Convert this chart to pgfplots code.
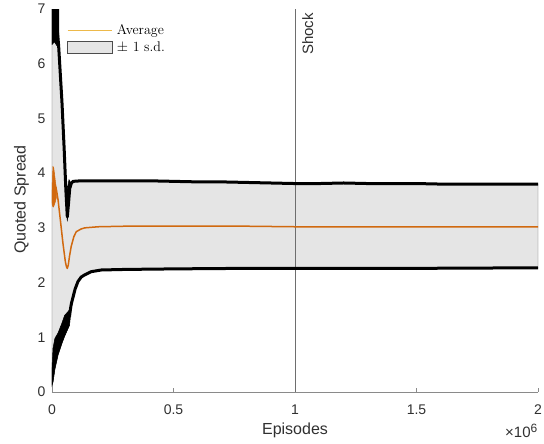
\documentclass[border=0pt]{standalone}
\usepackage{fontspec}
\setsansfont{Liberation Sans}
\usepackage{pgfplots}
\pgfplotsset{compat=1.18}

\definecolor{avgorange}{HTML}{D1690F}
\definecolor{legorange}{HTML}{EDB94A}
\definecolor{bandgray}{HTML}{E5E5E5}
\definecolor{axgray}{HTML}{8A8A8A}
\definecolor{txtgray}{HTML}{303030}

\begin{document}
\begin{tikzpicture}
\path[use as bounding box] (-52pt,-52pt) rectangle (492pt,392pt);
\begin{axis}[
  scale only axis,
  width=486pt, height=383pt,
  xmin=0, xmax=2, ymin=0, ymax=7,
  clip mode=individual,
  axis x line=bottom, axis y line=left,
  axis line style={-, axgray, line width=0.6pt},
  xtick={0,0.5,1,1.5,2},
  xticklabels={0,0.5,1,1.5,2},
  ytick={0,1,2,3,4,5,6,7},
  tick align=inside,
  major tick length=4pt,
  tick style={axgray, line width=0.6pt},
  /pgf/number format/assume math mode=true,
  tick label style={font=\sffamily\fontsize{14}{16}\selectfont, text=txtgray},
  xticklabel style={yshift=-9pt},
  yticklabel style={xshift=-3pt},
  legend style={at={(axis description cs:0,1)}, anchor=north west,
    xshift=15pt, yshift=-13pt, draw=none, fill=none, inner sep=0pt,
    font=\fontsize{14}{16}\selectfont, row sep=2pt, column sep=2pt,
    nodes={inner sep=2pt}},
  legend cell align=left,
]

% band of one standard deviation around the average
\addplot[fill=bandgray, draw=black!60, line width=0.5pt, forget plot] coordinates {
  (0,7.5) (0.027,7.5) (0.027,6.35) (0.033,5.90) (0.041,5.30) (0.050,4.45)
  (0.057,3.70) (0.063,3.20) (0.068,3.45) (0.073,3.72) (0.080,3.82)
  (0.087,3.85) (0.12,3.86) (0.2,3.86) (0.3,3.86) (0.4,3.86) (0.5,3.85)
  (0.6,3.84) (0.7,3.84) (0.8,3.83) (0.9,3.82) (1.0,3.81) (1.1,3.81)
  (1.2,3.82) (1.3,3.81) (1.4,3.81) (1.5,3.81) (1.6,3.80) (1.7,3.80)
  (1.8,3.80) (1.9,3.80) (2.0,3.80)
  (2.0,2.27) (1.5,2.26) (1.0,2.26) (0.8,2.26) (0.5,2.25) (0.3,2.24)
  (0.203,2.23) (0.162,2.20) (0.134,2.14) (0.120,2.10) (0.107,2.02)
  (0.095,1.88) (0.087,1.74) (0.080,1.62) (0.078,1.50) (0.072,1.22)
  (0.062,1.12) (0.052,1.02) (0.040,0.88) (0.025,0.68) (0.012,0.42)
  (0.004,0.18) (0,0.12)
} -- cycle;

% shock marker
\addplot[axgray!80!black, line width=0.6pt, forget plot] coordinates {(1,0) (1,7)};

% upper bound: noisy start, then the line
\addplot[fill=black, draw=black, line width=0.5pt, forget plot] coordinates {
  (0,6.35) (0,7.5) (0.028,7.5) (0.028,6.30) (0.020,6.33) (0.010,6.40)
} -- cycle;
\addplot[fill=black, draw=black, line width=0.5pt, forget plot] coordinates {
  (0.052,3.98) (0.058,3.55) (0.063,3.12) (0.068,3.38) (0.073,3.66)
  (0.080,3.80) (0.070,3.88) (0.062,3.70) (0.057,3.95)
} -- cycle;
\addplot[black, line width=3pt, line join=round, forget plot] coordinates {
  (0.022,6.60) (0.027,6.35) (0.033,5.90) (0.041,5.30) (0.050,4.45)
  (0.057,3.70) (0.063,3.20) (0.068,3.45) (0.073,3.72) (0.080,3.82)
  (0.087,3.85) (0.12,3.86) (0.2,3.86) (0.3,3.86) (0.4,3.86) (0.5,3.85)
  (0.6,3.84) (0.7,3.84) (0.8,3.83) (0.9,3.82) (1.0,3.81) (1.1,3.81)
  (1.2,3.82) (1.3,3.81) (1.4,3.81) (1.5,3.81) (1.6,3.80) (1.7,3.80)
  (1.8,3.80) (1.9,3.80) (2.0,3.80)
};

% lower bound: noisy start, then the line
\addplot[fill=black, draw=black, line width=0.5pt, forget plot] coordinates {
  (0,0.45) (0.004,0.80) (0.012,0.98) (0.025,1.08) (0.040,1.25)
  (0.052,1.40) (0.062,1.45) (0.072,1.50) (0.078,1.60)
  (0.078,1.50) (0.072,1.22) (0.062,1.12) (0.052,1.02) (0.040,0.88)
  (0.025,0.68) (0.012,0.42) (0.004,0.18) (0,0.12)
} -- cycle;
\addplot[black, line width=3pt, line join=round, forget plot] coordinates {
  (0.072,1.38) (0.076,1.52) (0.080,1.62) (0.087,1.74) (0.095,1.88)
  (0.107,2.02) (0.120,2.10) (0.134,2.14) (0.162,2.20) (0.203,2.23)
  (0.3,2.24) (0.5,2.25) (0.8,2.26) (1.0,2.26) (1.5,2.26) (2.0,2.27)
};

% average: noisy start, then the line
\addplot[fill=avgorange, draw=avgorange, line width=0.5pt, forget plot] coordinates {
  (0,3.70) (0.002,3.95) (0.004,4.12) (0.007,4.10) (0.010,4.00)
  (0.014,3.85) (0.018,3.72)
  (0.018,3.55) (0.012,3.45) (0.006,3.38) (0.002,3.40) (0,3.45)
} -- cycle;
\addplot[avgorange, line width=1.5pt, line join=round, forget plot] coordinates {
  (0.016,3.75) (0.020,3.65) (0.025,3.51) (0.035,3.12) (0.045,2.72)
  (0.055,2.38) (0.060,2.28) (0.063,2.26) (0.067,2.32) (0.072,2.48)
  (0.079,2.66) (0.090,2.84) (0.100,2.93) (0.120,2.98) (0.135,3.00)
  (0.19,3.02) (0.3,3.03) (0.5,3.03) (0.8,3.03) (1.0,3.02) (1.3,3.02)
  (1.6,3.02) (2.0,3.02)
};

\addlegendimage{legend image code/.code={
  \draw[legorange, line width=0.8pt] (0pt,0pt) -- (44pt,0pt);}}
\addlegendentry{Average}
\addlegendimage{legend image code/.code={
  \draw[fill=bandgray, draw=black!70, line width=0.8pt] (0pt,-6pt) rectangle (45pt,6pt);}}
\addlegendentry{$\pm$ 1 s.d.}

\node[rotate=90, anchor=north east, inner sep=0pt,
  font=\sffamily\fontsize{15}{17}\selectfont, text=txtgray]
  at ([xshift=7pt, yshift=-4pt]axis cs:1,7) {Shock};
\node[rotate=90, anchor=center, inner sep=0pt,
  font=\sffamily\fontsize{16}{18}\selectfont, text=txtgray]
  at ([xshift=-30.5pt, yshift=1pt]axis description cs:0,0.5) {Quoted Spread};
\node[anchor=center, inner sep=0pt,
  font=\sffamily\fontsize{16}{18}\selectfont, text=txtgray]
  at ([yshift=-38pt]axis cs:1,0) {Episodes};
\node[anchor=east, inner sep=0pt,
  font=\sffamily\fontsize{15}{17}\selectfont, text=txtgray]
  at ([yshift=-39pt]axis description cs:1,0) {×10\textsuperscript{\fontsize{12}{14}\selectfont 6}};
\end{axis}
\end{tikzpicture}
\end{document}
